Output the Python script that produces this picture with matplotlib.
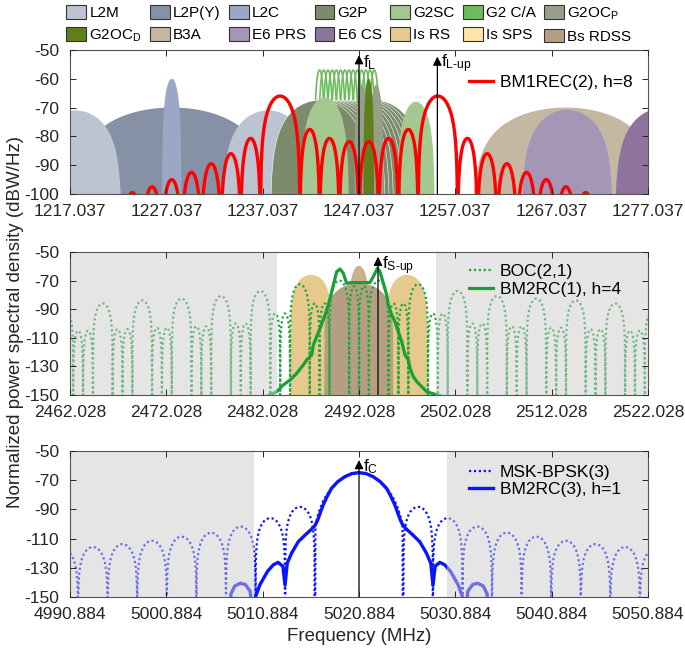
import numpy as np
import matplotlib
matplotlib.use('Agg')
import matplotlib.pyplot as plt
from matplotlib.patches import Patch

plt.rcParams['font.family'] = ['Liberation Sans', 'DejaVu Sans']
plt.rcParams['mathtext.fontset'] = 'custom'
plt.rcParams['mathtext.rm'] = 'Liberation Sans'
plt.rcParams['mathtext.it'] = 'Liberation Sans:italic'
plt.rcParams['axes.unicode_minus'] = False

### data (MHz, dBW/Hz)

# --- L band ---
f_l = 1247.037
f_l_up = 1255.17
l_ticks = [1217.037, 1227.037, 1237.037, 1247.037, 1257.037, 1267.037, 1277.037]

l2py_edges = [(1217.37, 1237.83)]
l2py_peak = [-70]
l2m_edges = [(1212.8, 1222.4), (1232.8, 1242.4)]
l2m_peak = [-71, -71]
l2c_edges = [(1226.6, 1228.6)]
l2c_peak = [-60]
glo_l2_ch = [1242.9375, 1243.375, 1243.8125, 1244.25, 1244.6875, 1245.125, 1245.5625,
             1246.0, 1246.4375, 1246.875, 1247.3125, 1247.75, 1248.1875, 1248.625]
g2ca_hw = 0.511
g2ca_peak = -57
g2p_hw = 5.11
g2p_peak = -67.5
g2sc_edges = [(1241.0, 1246.0), (1251.0, 1254.9)]
g2sc_peak = [-66.5, -68]
g2ocp_edges = [(1246.55, 1248.06), (1248.06, 1249.6)]
g2ocp_peak = [-62, -62]
g2ocd_edges = [(1247.5, 1248.6)]
g2ocd_peak = [-60]
b3a_edges = [(1258.8, 1278.2)]
b3a_peak = [-70]
e6prs_edges = [(1263.9, 1273.4), (1284.0, 1293.5)]
e6prs_peak = [-70.8, -70.8]
e6cs_edges = [(1273.6, 1283.9)]
e6cs_peak = [-70]

# BM1REC(2), h=8: nulls (offset from f_L) and lobe peaks
bm1_nulls = [-24.552, -22.506, -20.46, -18.414, -16.368, -14.322, -12.276, -10.23, -6.138,
             -4.092, -2.046, 0.0, 2.046, 4.092, 6.138, 10.23, 12.276, 14.322, 16.368,
             18.414, 20.46, 22.506, 24.552]
bm1_peaks = [-99.5, -97.5, -95, -92.5, -89.5, -86, -80.7, -66, -77.6, -80.7, -81.8,
             -81.8, -80.7, -77.6, -66, -80.7, -86, -89.5, -92.5, -95, -97.5, -99.5]

# --- S band ---
f_s = 2492.028
f_s_up = 2494.0
s_band = (2483.5, 2500.0)
s_ticks = [2462.028, 2472.028, 2482.028, 2492.028, 2502.028, 2512.028, 2522.028]

isrs_edges = [(2484.9, 2489.2), (2494.85, 2499.15)]
isrs_peak = [-66, -66]
issps_edges = [(2491.0, 2493.05)]
issps_peak = [-59.7]
bsrdss_edges = [(2488.4, 2495.6)]
bsrdss_peak = [-72]

# BOC(2,1): positive-side nulls (offset from f_S) and lobe peaks, mirrored
boc_nulls = [0.0, 1.023, 3.069, 4.092, 5.115, 7.161, 8.184, 9.207, 11.253, 12.276, 13.299,
             15.345, 16.368, 17.391, 19.437, 20.46, 21.483, 23.529, 24.552, 25.575,
             27.621, 28.644, 29.667, 31.713]
boc_peaks = [-74, -70, -86, -86, -72.5, -93, -93, -77.3, -100, -100, -80.8, -102, -102,
             -82.6, -103, -103, -83.8, -104, -104, -86, -105, -105, -88]

# BM2RC(1), h=4
bm2rc1_off = [-9.6, -8.55, -7.86, -7.16, -6.47, -5.78, -5.43, -4.91, -4.74, -4.05, -3.53,
              -3.18, -2.66, -2.32, -1.97, -1.63, -1.28, -0.76, 1.14, 1.49, 1.90, 2.18,
              2.53, 2.87, 3.04, 3.39, 3.74, 4.08, 4.43, 4.78, 5.12, 5.30, 5.64, 5.99,
              7.02, 8.6]
bm2rc1_lvl = [-151, -147.7, -143, -139.5, -134.9, -129, -125.5, -122, -115, -103.4, -94,
              -87, -73, -63.8, -61.9, -64.9, -71.9, -71.4, -71.4, -67.2, -61.4, -63.8,
              -71.9, -80, -87, -94, -98.7, -105.7, -112.7, -122, -125.5, -131.4, -137.2,
              -140.6, -147.7, -151]

# --- C band ---
f_c = 5020.884
c_band = (5010.0, 5030.0)
c_ticks = [4990.884, 5000.884, 5010.884, 5020.884, 5030.884, 5040.884, 5050.884]

# MSK-BPSK(3) main lobe (positive side, mirrored) and sidelobes
msk_main_off = [0.0, 0.75, 1.49, 2.2, 2.87, 3.4, 3.74, 4.1, 4.35, 4.52, 4.6]
msk_main_lvl = [-65, -65.7, -67.9, -71.3, -75.8, -80.5, -84.5, -90.5, -96, -101, -300]
msk_nulls = [4.6, 7.67, 10.74, 13.81, 16.88, 19.95, 23.02, 26.09, 29.16, 32.23]
msk_peaks = [-88.3, -96, -101.8, -106, -108.7, -111.5, -113.8, -115.8, -117.5]

# BM2RC(3), h=1 (positive side, mirrored)
bm2rc3_off = [0.0, 0.75, 1.47, 2.2, 2.86, 3.3, 3.72, 4.0, 4.3, 4.58, 5.0, 5.5, 6.3, 7.0,
              7.45, 7.68, 7.9, 8.4, 8.9, 9.5, 10.3, 10.85, 10.95, 11.3, 11.8, 12.3, 12.9,
              13.3, 13.4]
bm2rc3_lvl = [-64.8, -65.5, -67.6, -71, -75.6, -81, -87, -92, -97.5, -101.2, -104, -107,
              -112.1, -120, -126.9, -142, -129, -126.3, -128, -132.5, -141.8, -152, -170,
              -146, -141.5, -140.6, -142.5, -148, -170]


def lobes(edges, peaks, n=160):
    fs, ps = [], []
    for (a, b), pk in zip(edges, peaks):
        u = np.linspace(0, 1, n)
        fs.append(a + (b - a) * u)
        ps.append(pk + 20 * np.log10(np.maximum(np.sin(np.pi * u), 1e-9)))
    return fs, ps


def fill_lobes(ax, edges, peaks, color, z, ec='none', elw=0):
    for f, p in zip(*lobes(edges, peaks)):
        ax.fill_between(f, p, -400, facecolor=color, edgecolor=ec, lw=elw, zorder=z)


def nulls_to_edges(nulls):
    return list(zip(nulls[:-1], nulls[1:]))


def mirror(off, lvl):
    off = np.asarray(off)
    lvl = np.asarray(lvl)
    return np.concatenate([-off[::-1], off[1:]]), np.concatenate([lvl[::-1], lvl[1:]])


def style(ax, ticks, ylim, yticks):
    ax.set_xlim(ticks[0], ticks[-1])
    ax.set_ylim(*ylim)
    ax.set_xticks(ticks)
    ax.set_xticklabels(['%.3f' % t for t in ticks])
    ax.set_yticks(yticks)
    ax.set_yticklabels(['%d' % t for t in yticks])
    ax.tick_params(direction='in', length=4, width=0.7, top=True, right=True,
                   labelsize=12.5, colors='#262626')
    ax.tick_params(axis='x', pad=7)
    ax.tick_params(axis='y', pad=8)
    for s in ax.spines.values():
        s.set_color('#555555')
        s.set_linewidth(0.8)
        s.set_zorder(10)
    ax.xaxis.set_zorder(10)
    ax.yaxis.set_zorder(10)


def arrow(ax, x, y0, y1, label, lx, ly):
    ax.annotate('', xy=(x, y1), xytext=(x, y0),
                arrowprops=dict(arrowstyle='-|>', color='k', lw=0.9, mutation_scale=13,
                                shrinkA=0, shrinkB=0), zorder=8)
    ax.text(lx, ly, label, fontsize=12.5, va='top', ha='left', zorder=8)


col = {
    'L2M': '#bcc3d1', 'L2P(Y)': '#8791a5', 'L2C': '#9aa8c6', 'G2P': '#7b8b6c',
    'G2SC': '#a3c990', 'G2 C/A': '#6dbb5f', 'G2OCp': '#979f89', 'G2OCd': '#5f7f1d',
    'B3A': '#c4b8a3', 'E6 PRS': '#a596b8', 'E6 CS': '#8e749c', 'Is RS': '#e6c98d',
    'Is SPS': '#fde4a8', 'Bs RDSS': '#b49f82',
}

fig = plt.figure(figsize=(6.85, 6.52), dpi=100)
ax1 = fig.add_axes([0.1022, 0.7025, 0.8438, 0.2209])
ax2 = fig.add_axes([0.1022, 0.3942, 0.8438, 0.2193])
ax3 = fig.add_axes([0.1022, 0.0844, 0.8438, 0.2239])

# ---------- L band ----------
fill_lobes(ax1, l2py_edges, l2py_peak, col['L2P(Y)'], 1)
fill_lobes(ax1, l2m_edges, l2m_peak, col['L2M'], 1.1)
fill_lobes(ax1, l2c_edges, l2c_peak, col['L2C'], 1.2)
for fc in glo_l2_ch:
    f, p = lobes([(fc - g2ca_hw, fc + g2ca_hw)], [g2ca_peak])
    ax1.plot(f[0], p[0], color=col['G2 C/A'], lw=1.2, zorder=1.3)
for fc in glo_l2_ch[::-1]:
    fill_lobes(ax1, [(fc - g2p_hw, fc + g2p_hw)], [g2p_peak], col['G2P'], 1.4,
               ec='white', elw=0.4)
fill_lobes(ax1, g2sc_edges, g2sc_peak, col['G2SC'], 1.5)
fill_lobes(ax1, g2ocp_edges, g2ocp_peak, col['G2OCp'], 1.6)
fill_lobes(ax1, g2ocd_edges, g2ocd_peak, col['G2OCd'], 1.7)
fill_lobes(ax1, b3a_edges, b3a_peak, col['B3A'], 1.5)
fill_lobes(ax1, e6prs_edges, e6prs_peak, col['E6 PRS'], 1.6)
fill_lobes(ax1, e6cs_edges, e6cs_peak, col['E6 CS'], 1.7)

f, p = lobes(nulls_to_edges(bm1_nulls), bm1_peaks)
ax1.plot(f_l + np.concatenate(f), np.concatenate(p), color='#ff0000', lw=2.4, zorder=3,
         label='BM1REC(2), h=8')
arrow(ax1, f_l, -100, -51.8, r'f$_{\mathrm{L}}$', f_l + 0.4, -51)
arrow(ax1, f_l_up, -100, -52.3, r'f$_{\mathrm{L\text{-}up}}$', f_l_up + 0.4, -51)
style(ax1, l_ticks, (-100, -50), [-100, -90, -80, -70, -60, -50])
ax1.legend(loc='center left', bbox_to_anchor=(0.69, 0.775), frameon=False, fontsize=12.5,
           handlelength=1.4, handletextpad=0.4, borderpad=0, borderaxespad=0)

# ---------- S band ----------
fill_lobes(ax2, issps_edges, issps_peak, '#c9b08e', 1)
fill_lobes(ax2, isrs_edges, isrs_peak, col['Is RS'], 1.1)
fill_lobes(ax2, bsrdss_edges, bsrdss_peak, col['Bs RDSS'], 1.2)
f, p = lobes(nulls_to_edges(boc_nulls), boc_peaks)
bo, bl = np.concatenate(f), np.concatenate(p)
bo_full = np.concatenate([-bo[::-1], bo])
bl_full = np.concatenate([bl[::-1], bl])
ax2.plot(f_s + bo_full, bl_full, color='#1fa53c', lw=1.6, ls=(0, (1, 1.2)), zorder=2,
         label='BOC(2,1)')
ax2.plot(f_s + np.array(bm2rc1_off), bm2rc1_lvl, color='#16a035', lw=2.3, zorder=3,
         label='BM2RC(1), h=4')
ax2.axvspan(s_ticks[0], s_band[0], color='0.8', alpha=0.5, lw=0, zorder=4)
ax2.axvspan(s_band[1], s_ticks[-1], color='0.8', alpha=0.5, lw=0, zorder=4)
arrow(ax2, f_s_up, -150, -53.3, r'f$_{\mathrm{S\text{-}up}}$', f_s_up + 0.4, -51.5)
style(ax2, s_ticks, (-150, -50), [-150, -130, -110, -90, -70, -50])
ax2.legend(loc='center left', bbox_to_anchor=(0.69, 0.80), frameon=False, fontsize=12.5,
           handlelength=1.4, handletextpad=0.4, borderpad=0, borderaxespad=0,
           labelspacing=0.15)

# ---------- C band ----------
mo, ml = mirror(msk_main_off, msk_main_lvl)
f, p = lobes(nulls_to_edges(msk_nulls), msk_peaks)
so, sl = np.concatenate(f), np.concatenate(p)
msk_off = np.concatenate([-so[::-1], mo, so])
msk_lvl = np.concatenate([sl[::-1], ml, sl])
ax3.plot(f_c + msk_off, msk_lvl, color='#0a14ff', lw=1.6, ls=(0, (1, 1.2)), zorder=2,
         label='MSK-BPSK(3)')
ro, rl = mirror(bm2rc3_off, bm2rc3_lvl)
ax3.plot(f_c + ro, rl, color='#0a14ff', lw=2.4, zorder=3, label='BM2RC(3), h=1')
ax3.axvspan(c_ticks[0], c_band[0], color='0.8', alpha=0.5, lw=0, zorder=4)
ax3.axvspan(c_band[1], c_ticks[-1], color='0.8', alpha=0.5, lw=0, zorder=4)
arrow(ax3, f_c, -150, -56.2, r'f$_{\mathrm{C}}$', f_c + 0.4, -54.5)
style(ax3, c_ticks, (-150, -50), [-150, -130, -110, -90, -70, -50])
ax3.legend(loc='center left', bbox_to_anchor=(0.69, 0.795), frameon=False, fontsize=12.5,
           handlelength=1.4, handletextpad=0.4, borderpad=0, borderaxespad=0,
           labelspacing=0.15)

# ---------- signal legend ----------
names = ['L2M', 'G2OCd', 'L2P(Y)', 'B3A', 'L2C', 'E6 PRS', 'G2P', 'E6 CS', 'G2SC', 'Is RS',
         'G2 C/A', 'Is SPS', 'G2OCp', 'Bs RDSS']
shown = {'G2OCd': r'G2OC$_{\mathrm{D}}$', 'G2OCp': r'G2OC$_{\mathrm{P}}$'}
handles = [Patch(facecolor=col[n], edgecolor='#333333', lw=0.8) for n in names]
fig.legend(handles, [shown.get(n, n) for n in names], ncol=7, loc='upper left',
           bbox_to_anchor=(0.097, 0.992), frameon=False, fontsize=11, handlelength=1.3,
           handleheight=1.0, handletextpad=0.2, columnspacing=0.55, labelspacing=0.45,
           borderpad=0, borderaxespad=0)

fig.text(0.022, 0.506, 'Normalized power spectral density (dBW/Hz)', rotation=90,
         ha='center', va='center', fontsize=13.5, color='#262626')
fig.text(0.524, 0.024, 'Frequency (MHz)', ha='center', va='center', fontsize=13.5,
         color='#262626')

fig.savefig('out.png', dpi=100)
